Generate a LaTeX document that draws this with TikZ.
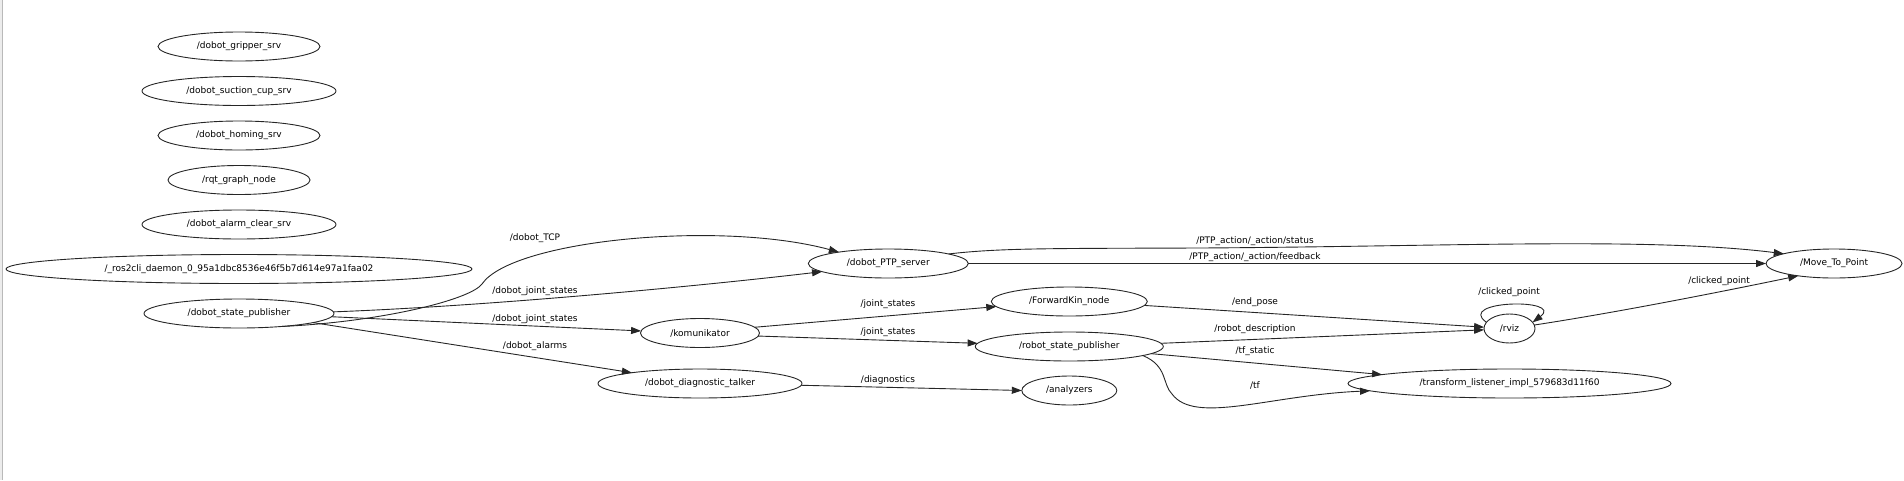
\documentclass[tikz,border=0pt]{standalone}
\usepackage{fontspec}
\setmainfont{DejaVu Sans}
\usepackage{tikz}
\usetikzlibrary{shapes.geometric, arrows.meta, positioning}

\begin{document}
\begin{tikzpicture}[
  x=1pt, y=-1pt,
  font=\fontsize{9}{11}\selectfont,
  rosnode/.style={ellipse, draw=black!85, line width=0.9pt, inner sep=0pt,
                  outer sep=0pt, minimum height=29pt},
  topic/.style={inner sep=0pt},
  arr/.style={-{Triangle[length=10pt, width=7pt]}, line width=0.9pt, draw=black!85}]
  \useasboundingbox (0,0) rectangle (1904,480);
  \fill[gray!15] (0,0) rectangle (2,480);
  \draw[gray!55, line width=1pt] (2.8,0) -- (2.8,480);

  \node[rosnode, minimum width=162pt] (gripper) at (239,46.5) {/dobot\_gripper\_srv};
  \node[rosnode, minimum width=194pt, below=15.5pt of gripper] (suction) {/dobot\_suction\_cup\_srv};
  \node[rosnode, minimum width=162pt, below=15.5pt of suction] (homing)  {/dobot\_homing\_srv};
  \node[rosnode, minimum width=142pt, below=15.5pt of homing]  (rqt)     {/rqt\_graph\_node};
  \node[rosnode, minimum width=194pt, below=15.5pt of rqt]     (alclear) {/dobot\_alarm\_clear\_srv};
  \node[rosnode, minimum width=466pt, below=15.5pt of alclear] (daemon)  {/\_ros2cli\_daemon\_0\_95a1dbc8536e46f5b7d614e97a1faa02};
  \node[rosnode, minimum width=190pt, below=15.5pt of daemon]  (dsp)     {/dobot\_state\_publisher};

  \node[rosnode, minimum width=160pt] (ptp) at (888.3,263.5) {/dobot\_PTP\_server};
  \node[rosnode, minimum width=119pt] (kom) at (700,333)     {/komunikator};
  \node[rosnode, minimum width=204pt, below=21.5pt of kom] (dgt) {/dobot\_diagnostic\_talker};
  \node[rosnode, minimum width=156pt] (fk)  at (1069.3,301.5) {/ForwardKin\_node};
  \node[rosnode, minimum width=188pt, below=16pt of fk]  (rsp) {/robot\_state\_publisher};
  \node[rosnode, minimum width=95pt,  below=15pt of rsp] (ana) {/analyzers};
  \node[rosnode, minimum width=51pt]  (rviz) at (1509.5,328.5) {/rviz};
  \node[rosnode, minimum width=323pt, below=26pt of rviz] (tfl) {/transform\_listener\_impl\_579683d11f60};
  \node[rosnode, minimum width=136pt] (mtp) at (1834,263.5) {/Move\_To\_Point};

  \node[topic] (t-tcp)   at (535,238) {/dobot\_TCP};
  \node[topic] (t-djs1)  at (535,291) {/dobot\_joint\_states};
  \node[topic] (t-djs2)  at (535,319) {/dobot\_joint\_states};
  \node[topic] (t-alarm) at (535,346) {/dobot\_alarms};
  \node[topic] (t-js1)   at (888,304) {/joint\_states};
  \node[topic] (t-js2)   at (888,332) {/joint\_states};
  \node[topic] (t-diag)  at (888,380) {/diagnostics};
  \node[topic] (t-stat)  at (1255,241) {/PTP\_action/\_action/status};
  \node[topic] (t-feed)  at (1255,257) {/PTP\_action/\_action/feedback};
  \node[topic] (t-pose)  at (1255,302) {/end\_pose};
  \node[topic] (t-desc)  at (1255,329) {/robot\_description};
  \node[topic] (t-tfst)  at (1255,351) {/tf\_static};
  \node[topic] (t-tf)    at (1255,385) {/tf};
  \node[topic] (t-clk1)  at (1509,292) {/clicked\_point};
  \node[topic] (t-clk2)  at (1719,281) {/clicked\_point};

  \draw[arr] (dsp.-17) .. controls (380,322) and (470,300) .. (482,284)
             .. controls (512,240) and (720,220) .. (ptp.167);
  \draw[arr] (dsp.1.5) .. controls (490,306) and (700,286) .. (ptp.187.5);
  \draw[arr] (dsp.-2.8) -- (kom.178);
  \draw[arr] (dsp.-7.6) -- (dgt.171.5);
  \draw[arr] (kom.6)    -- (fk.184.4);
  \draw[arr] (kom.-3)   -- (rsp.178.5);
  \draw[arr] (dgt.-1)   -- (ana.180);
  \draw[arr] (ptp.9) .. controls (1000,248) and (1050,248.5) .. (1200,248)
             .. controls (1450,246.5) and (1650,237) .. (mtp.169);
  \draw[arr] (ptp.east) -- (mtp.west);
  \draw[arr] (fk.-3.4)  -- (rviz.177);
  \draw[arr] (rsp.2.8)  -- (rviz.183);
  \draw[arr] (rsp.-5)   -- (tfl.176);
  \draw[arr] (rsp.-7) .. controls (1168,366) and (1162,384) .. (1172,394)
             .. controls (1195,425) and (1270,395) .. (tfl.183);
  \draw[arr] (rviz.165) .. controls (1455,300) and (1565,298) .. (rviz.15);
  \draw[arr] (rviz.8) .. controls (1620,312) and (1730,290) .. (mtp.199);
\end{tikzpicture}
\end{document}
